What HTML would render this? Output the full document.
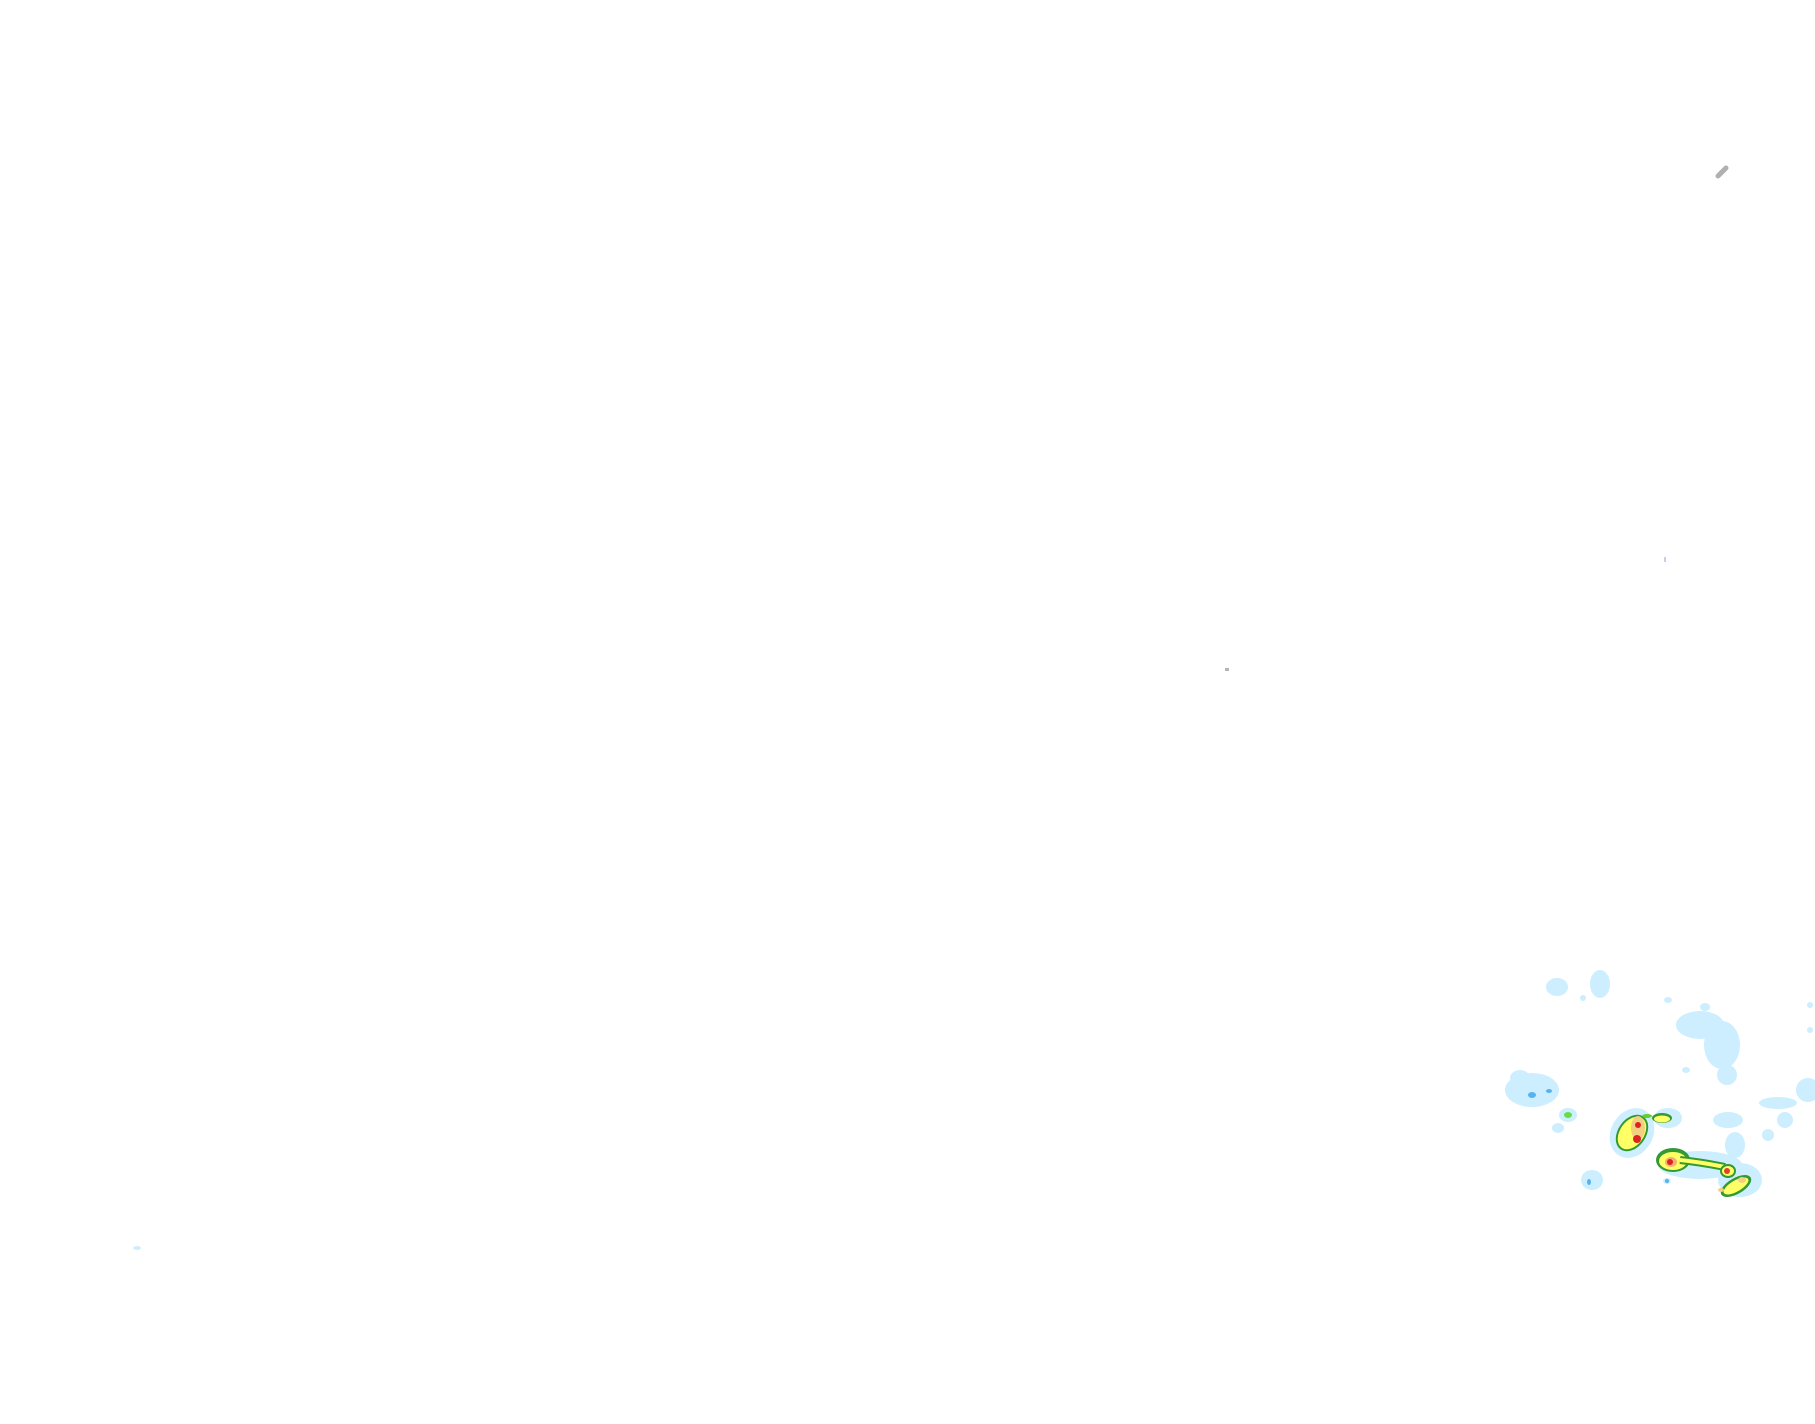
<!DOCTYPE html>
<html><head><meta charset="utf-8"><style>html,body{margin:0;padding:0;background:#fff}svg{display:block}</style></head>
<body>
<svg width="1815" height="1424" viewBox="0 0 1815 1424" xmlns="http://www.w3.org/2000/svg">
<rect width="1815" height="1424" fill="#fff"/>
<g fill="#b5b5b5">
<line x1="1718" y1="176" x2="1726" y2="168" stroke="#b0b0b0" stroke-width="5" stroke-linecap="round"/>
<rect x="1225" y="668" width="4" height="3"/>
<rect x="1664" y="557" width="2" height="5" fill="#cce"/>
</g>
<g fill="#cceeff">
<ellipse cx="137" cy="1248" rx="4" ry="2"/>
<ellipse cx="1557" cy="987" rx="11" ry="9"/>
<ellipse cx="1600" cy="984" rx="10" ry="14"/>
<ellipse cx="1583" cy="998" rx="3" ry="3"/>
<ellipse cx="1532" cy="1090" rx="27" ry="17"/>
<ellipse cx="1520" cy="1078" rx="10" ry="8"/>
<ellipse cx="1568" cy="1115" rx="9" ry="7"/>
<ellipse cx="1558" cy="1128" rx="6" ry="5"/>
<ellipse cx="1700" cy="1025" rx="24" ry="14"/>
<ellipse cx="1722" cy="1045" rx="18" ry="24"/>
<ellipse cx="1727" cy="1075" rx="10" ry="10"/>
<ellipse cx="1705" cy="1007" rx="5" ry="4"/>
<ellipse cx="1668" cy="1000" rx="4" ry="3"/>
<ellipse cx="1778" cy="1103" rx="19" ry="6"/>
<ellipse cx="1808" cy="1090" rx="12" ry="12"/>
<ellipse cx="1810" cy="1030" rx="3" ry="3"/>
<ellipse cx="1810" cy="1005" rx="3" ry="3"/>
<ellipse cx="1728" cy="1120" rx="15" ry="8"/>
<ellipse cx="1735" cy="1145" rx="10" ry="13"/>
<ellipse cx="1768" cy="1135" rx="6" ry="6"/>
<ellipse cx="1785" cy="1120" rx="8" ry="8"/>
<ellipse cx="1686" cy="1070" rx="4" ry="3"/>
<ellipse cx="1592" cy="1180" rx="11" ry="10"/>
<ellipse cx="1667" cy="1181" rx="4" ry="3"/>
<ellipse cx="1632" cy="1133" rx="21" ry="26" transform="rotate(30 1632 1133)"/>
<ellipse cx="1668" cy="1118" rx="14" ry="10"/>
<ellipse cx="1700" cy="1165" rx="42" ry="14"/>
<ellipse cx="1740" cy="1180" rx="22" ry="17"/>
</g>
<g fill="#55b3ee">
<ellipse cx="1532" cy="1095" rx="4" ry="3"/>
<ellipse cx="1549" cy="1091" rx="3" ry="2"/>
<ellipse cx="1589" cy="1182" rx="2" ry="3"/>
<ellipse cx="1667" cy="1181" rx="2" ry="2"/>
</g>
<ellipse cx="1568" cy="1115" rx="4" ry="3" fill="#66dd44"/>
<!-- storm 1 -->
<g>
<ellipse cx="1632" cy="1133" rx="14" ry="20" transform="rotate(35 1632 1133)" fill="#339933"/>
<ellipse cx="1632" cy="1133" rx="12" ry="18" transform="rotate(35 1632 1133)" fill="#ffff66"/>
<ellipse cx="1662" cy="1118" rx="10" ry="5" fill="#339933"/>
<ellipse cx="1662" cy="1119" rx="8" ry="3.5" fill="#ffff66"/>
<ellipse cx="1647" cy="1116" rx="5" ry="2" fill="#66cc33"/>
<ellipse cx="1638" cy="1128" rx="7" ry="12" fill="#f3d080"/>
<ellipse cx="1638" cy="1125" rx="3" ry="3" fill="#dd2222"/>
<ellipse cx="1637" cy="1139" rx="4" ry="4" fill="#dd2222"/>
</g>
<!-- storm 2 -->
<g>
<ellipse cx="1673" cy="1160" rx="17" ry="12" fill="#339933"/>
<ellipse cx="1673" cy="1161" rx="14" ry="9" fill="#ffff66"/>
<path d="M1680 1160 Q1700 1162 1725 1167" stroke="#339933" stroke-width="8" fill="none"/>
<path d="M1680 1160 Q1700 1162 1725 1167" stroke="#ffff66" stroke-width="4" fill="none"/>
<ellipse cx="1728" cy="1171" rx="8" ry="7" fill="#339933"/>
<ellipse cx="1728" cy="1171" rx="6" ry="5" fill="#ffff66"/>
<ellipse cx="1736" cy="1186" rx="17" ry="8" transform="rotate(-30 1736 1186)" fill="#339933"/>
<ellipse cx="1736" cy="1186" rx="14" ry="5.5" transform="rotate(-30 1736 1186)" fill="#ffff66"/>
<ellipse cx="1671" cy="1162" rx="6" ry="5" fill="#f3b070"/>
<ellipse cx="1670" cy="1162" rx="3" ry="3" fill="#dd2222"/>
<ellipse cx="1727" cy="1171" rx="3" ry="3" fill="#e04030"/>
<ellipse cx="1742" cy="1180" rx="4" ry="3" fill="#f3d080"/>
<ellipse cx="1721" cy="1190" rx="3" ry="2" fill="#f3d080"/>
</g>
</svg>
</body></html>
